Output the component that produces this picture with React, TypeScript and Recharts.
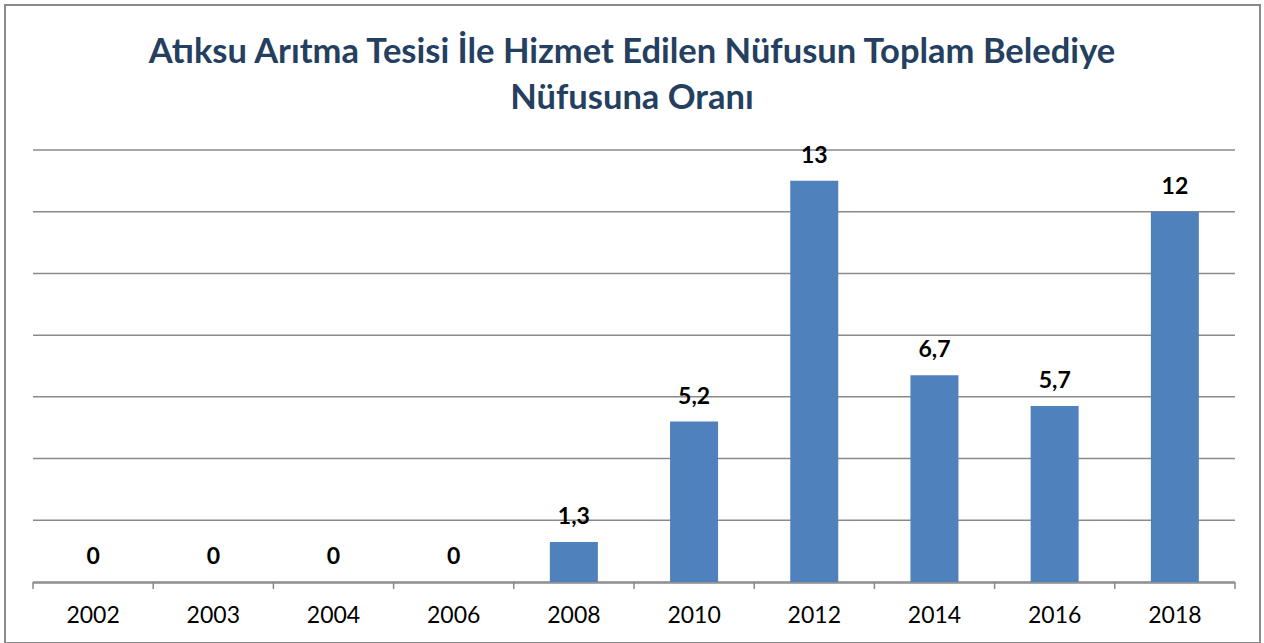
import { ComposedChart, Bar, Line, XAxis, YAxis, CartesianGrid, LabelList } from 'recharts'

const years = ['2002', '2003', '2004', '2006', '2008', '2010', '2012', '2014', '2016', '2018']
const ratios = [0, 0, 0, 0, 1.3, 5.2, 13, 6.7, 5.7, 12]
const yTicks = [0, 2, 4, 6, 8, 10, 12, 14]
const boundaryTicks = [0, 1, 2, 3, 4, 5, 6, 7, 8, 9, 10]
const titleLines = ['Atıksu Arıtma Tesisi İle Hizmet Edilen Nüfusun Toplam Belediye', 'Nüfusuna Oranı']

const data = years.map((year, i) => ({ year, value: ratios[i], idx: i + 0.5 }))

const FONT = 'Lato, "Open Sans", sans-serif'
const GRID = '#8a8a8a'

export default function App() {
  return (
    <div style={{ position: 'absolute', left: 0, top: 0, width: 1264, height: 643, background: '#fff', fontFamily: FONT }}>
      <div
        style={{
          position: 'absolute',
          left: 4,
          top: 4,
          width: 1257,
          height: 640,
          border: '2px solid #8a8a8a',
          boxSizing: 'border-box',
        }}
      />
      <div
        style={{
          position: 'absolute',
          left: 0,
          top: 27,
          width: 1264,
          textAlign: 'center',
          color: '#243f60',
          fontWeight: 700,
          fontSize: 34.5,
          lineHeight: '46px',
        }}
      >
        {titleLines.map((t) => (
          <div key={t}>{t}</div>
        ))}
      </div>
      <ComposedChart
        width={1264}
        height={643}
        data={data}
        margin={{ top: 150, right: 29, bottom: 59, left: 33 }}
        barCategoryGap="30%"
        style={{ position: 'absolute', left: 0, top: 0 }}
      >
        <CartesianGrid horizontal vertical={false} stroke={GRID} strokeWidth={1.5} />
        <YAxis hide domain={[0, 14]} ticks={yTicks} width={0} />
        {/* both x axes are 1px tall so they land on (nearly) the same baseline */}
        <XAxis
          xAxisId="cat"
          dataKey="year"
          height={1}
          axisLine={{ stroke: GRID, strokeWidth: 1.5 }}
          tickLine={false}
          tick={{ fill: '#000', fontSize: 23, fontFamily: FONT }}
          tickMargin={18}
        />
        <XAxis
          xAxisId="bounds"
          type="number"
          dataKey="idx"
          domain={[0, 10]}
          allowDataOverflow
          ticks={boundaryTicks}
          interval={0}
          axisLine={false}
          tickSize={7}
          tickLine={{ stroke: GRID, strokeWidth: 1.5 }}
          tickFormatter={() => ''}
          height={1}
        />
        <Bar xAxisId="cat" dataKey="value" fill="#4f81bd" isAnimationActive={false} />
        <Line
          xAxisId="bounds"
          dataKey="value"
          stroke="none"
          dot={false}
          activeDot={false}
          isAnimationActive={false}
        >
          <LabelList
            dataKey="value"
            position="top"
            offset={18}
            fill="#000"
            fontSize={23}
            fontWeight={700}
            fontFamily={FONT}
            formatter={(v: number) => String(v).replace('.', ',')}
          />
        </Line>
      </ComposedChart>
    </div>
  )
}
